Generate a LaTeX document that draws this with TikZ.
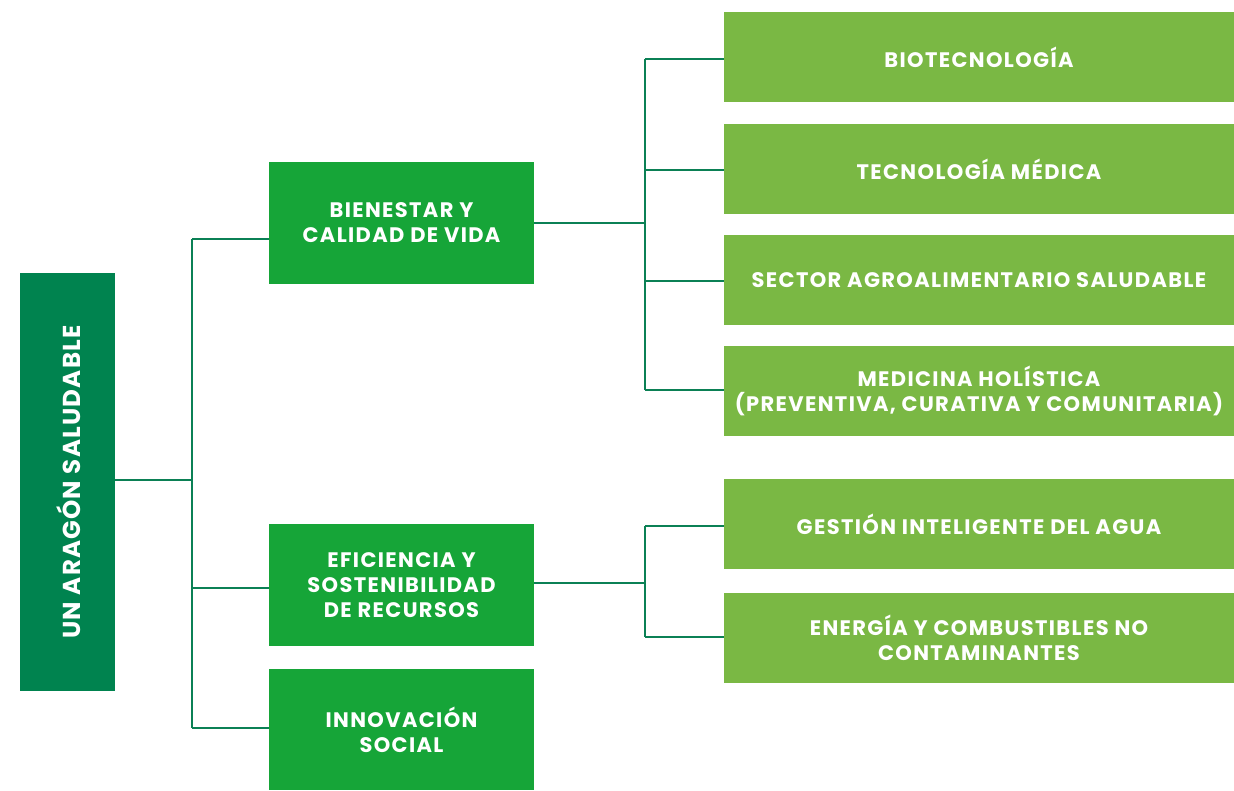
\documentclass[tikz,border=0pt]{standalone}
\usepackage{fontspec}
\setmainfont{Poppins}
\newfontfamily\boxfont[LetterSpace=6.5]{Poppins}
\newfontfamily\rootfont[LetterSpace=5]{Poppins}
\definecolor{dkgreen}{HTML}{00834F}
\definecolor{mdgreen}{HTML}{16A538}
\definecolor{ltgreen}{HTML}{7AB844}
\definecolor{linegreen}{HTML}{0B8055}
\begin{document}
\begin{tikzpicture}[x=1pt,y=-1pt,
  txt/.style={text=white,font=\boxfont\bfseries\fontsize{21}{25}\selectfont,align=center,inner sep=0pt},
  rootbox/.style={txt,fill=dkgreen,minimum width=95pt,minimum height=418pt},
  midbox/.style={txt,fill=mdgreen,minimum width=265pt,minimum height=122pt},
  rightbox/.style={txt,fill=ltgreen,minimum width=510pt,minimum height=90pt},
  conn/.style={draw=linegreen,line width=2pt}]
\useasboundingbox (0,0) rectangle (1234,790);
\node[rootbox] (root) at (67.5,482) {};
\node[txt,rotate=90,font=\rootfont\bfseries\fontsize{24.5}{25}\selectfont] (roottxt) at (69,482) {UN ARAGÓN SALUDABLE};
\node[midbox] (bien) at (401.5,223) {BIENESTAR Y\\CALIDAD DE VIDA};
\node[midbox] (efic) at (401.5,585) {EFICIENCIA Y\\SOSTENIBILIDAD\\DE RECURSOS};
\node[midbox,minimum height=121pt] (inno) at (401.5,729.5) {INNOVACIÓN\\SOCIAL};
\node[rightbox] (bio) at (979,57) {BIOTECNOLOGÍA};
\node[rightbox] (tec) at (979,169) {TECNOLOGÍA MÉDICA};
\node[rightbox] (sec) at (979,280) {SECTOR AGROALIMENTARIO SALUDABLE};
\node[rightbox] (med) at (979,391) {MEDICINA HOLÍSTICA\\(PREVENTIVA, CURATIVA Y COMUNITARIA)};
\node[rightbox] (ges) at (979,524) {GESTIÓN INTELIGENTE DEL AGUA};
\node[rightbox] (ene) at (979,638) {ENERGÍA Y COMBUSTIBLES NO\\CONTAMINANTES};
% trunk 1
\coordinate (t0) at (192,480);
\coordinate (tb) at (192,239);
\coordinate (te) at (192,588);
\coordinate (ti) at (192,728);
\draw[conn] (root.east |- t0) -- (t0);
\draw[conn] (tb) -- (ti);
\draw[conn] (tb) -- (tb -| bien.west);
\draw[conn] (te) -- (te -| efic.west);
\draw[conn] (ti) -- (ti -| inno.west);
% trunk 2
\coordinate (u0) at (645,223);
\coordinate (u1) at (645,59);
\coordinate (u2) at (645,170);
\coordinate (u3) at (645,281);
\coordinate (u4) at (645,390);
\draw[conn] (bien.east |- u0) -- (u0);
\draw[conn] (u1) -- (u4);
\draw[conn] (u1) -- (u1 -| bio.west);
\draw[conn] (u2) -- (u2 -| tec.west);
\draw[conn] (u3) -- (u3 -| sec.west);
\draw[conn] (u4) -- (u4 -| med.west);
% trunk 3
\coordinate (v0) at (645,583);
\coordinate (v1) at (645,526);
\coordinate (v2) at (645,637);
\draw[conn] (efic.east |- v0) -- (v0);
\draw[conn] (v1) -- (v2);
\draw[conn] (v1) -- (v1 -| ges.west);
\draw[conn] (v2) -- (v2 -| ene.west);
\end{tikzpicture}
\end{document}
